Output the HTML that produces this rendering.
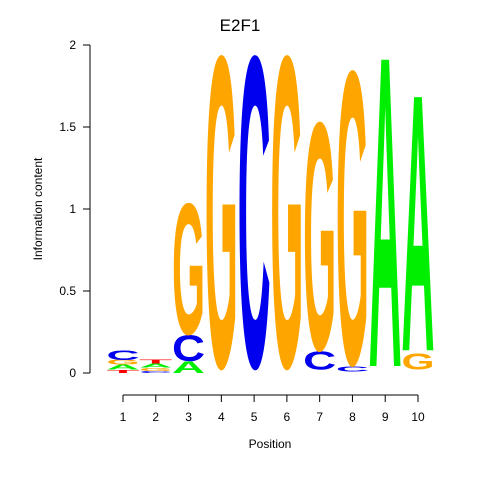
<!DOCTYPE html>
<html><head><meta charset="utf-8"><style>
body{margin:0;background:#fff}
svg{display:block;font-family:"Liberation Sans",sans-serif}
</style></head><body>
<svg id="logo" width="480" height="480" viewBox="0 0 480 480">
<text x="240" y="31" font-size="17" text-anchor="middle">E2F1</text>
<g id="yaxis"></g>
<g id="xaxis"></g>
<text x="0" y="0" font-size="12" text-anchor="middle" transform="translate(42,209) rotate(-90)">Information content</text>
<text x="270" y="448" font-size="12" text-anchor="middle">Position</text>
<g id="letters"></g>
</svg>
<script>
const positions=[1,2,3,4,5,6,7,8,9,10];
const stackLetters=[["T","A","G","C"],["C","G","A","T"],["A","C","G"],["G"],["C"],["G"],["C","G"],["C","G"],["A"],["G","A"]];
const stackHeights=[[0.02,0.03,0.03,0.06],[0.012,0.02,0.025,0.025],[0.07,0.16,0.8],[1.9],[1.9],[1.9],[0.11,1.39],[0.03,1.79],[1.9],[0.1,1.57]];
const stackBase=[0,0,0,0.02,0.02,0.02,0.02,0.01,0.02,0.02];
const yTicks=[0,0.5,1,1.5,2];
const yTickLabels=["0","0.5","1","1.5","2"];
const colors={A:"#00ee00",C:"#0000ee",G:"#ffa500",T:"#ff0000"};
const NS="http://www.w3.org/2000/svg";
const y=v=>373-v*164;
const x=p=>123+(p-1)*(418-123)/9;
const ya=document.getElementById('yaxis'),xa=document.getElementById('xaxis'),lg=document.getElementById('letters');
function mk(tag,attrs,parent){const e=document.createElementNS(NS,tag);for(const k in attrs)e.setAttribute(k,attrs[k]);parent.appendChild(e);return e;}
let l=mk('line',{x1:90,x2:90,y1:y(0),y2:y(2),stroke:'#000'},ya);


yTicks.forEach((t,i)=>{
 const tk=mk('line',{x1:83,x2:90,y1:y(t),y2:y(t),stroke:'#000'},ya);
 
 
 const tx=mk('text',{x:76,y:y(t)+4,'font-size':12,'text-anchor':'end'},ya);
 
 
 tx.textContent=yTickLabels[i];
});
l=mk('line',{x1:x(1),x2:x(10),y1:395,y2:395,stroke:'#000'},xa);


positions.forEach(p=>{
 const tk=mk('line',{x1:x(p),x2:x(p),y1:395,y2:402,stroke:'#000'},xa);
 
 
 const tx=mk('text',{x:x(p),y:421,'font-size':12,'text-anchor':'middle'},xa);
 
 
 tx.textContent=String(p);
});
const W=33;
positions.forEach((p,i)=>{
 let cum=stackBase[i];
 stackLetters[i].forEach((ch,j)=>{
  const h=stackHeights[i][j];
  const yb=y(cum),yt=y(cum+h);cum+=h;
  const ph=yb-yt;
  const t=mk('text',{x:0,y:0,'font-size':100,'font-weight':'bold',fill:colors[ch],textLength:W,lengthAdjust:'spacingAndGlyphs',
   transform:`translate(${x(p)-W/2},${yb-ph*0.012}) scale(1,${ph/70})`},lg);
  
  
  t.textContent=ch;
 });
});
</script>
</body></html>
